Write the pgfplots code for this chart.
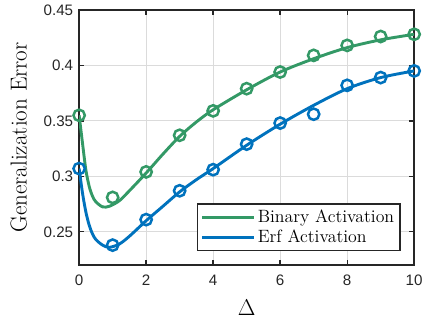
\documentclass[border=0pt]{standalone}
\usepackage{fontspec}
\usepackage{pgfplots}
\pgfplotsset{compat=1.18}
\newfontfamily\ticksf{Liberation Sans}
\definecolor{mgreen}{RGB}{51,153,102}
\definecolor{mblue}{RGB}{0,114,189}
\begin{document}
\begin{tikzpicture}
\begin{axis}[
  scale only axis,
  width=254pt, height=193.5pt,
  xmin=0, xmax=10, ymin=0.22, ymax=0.45,
  xtick={0,2,4,6,8,10},
  ytick={0.25,0.3,0.35,0.4,0.45},
  /pgf/number format/assume math mode=true,
  /pgf/number format/fixed,
  tick label style={font=\ticksf\fontsize{11.5}{13}\selectfont, text=black!85},
  xticklabel style={yshift=-4pt},
  yticklabel style={xshift=-1pt},
  grid=major,
  major grid style={gray!28, line width=0.8pt},
  axis line style={black!85, line width=1.2pt},
  tick style={black!85, line width=1pt},
  tick align=inside,
  major tick length=4pt,
  xlabel={$\Delta$},
  ylabel={Generalization Error},
  xlabel style={at={(axis description cs:0.5,-0.165)}, anchor=center, font=\fontsize{16}{18}\selectfont},
  ylabel style={at={(axis description cs:-0.18,0.5)}, anchor=center, font=\fontsize{17.5}{19}\selectfont},
  legend style={at={(0.96,0.055)}, anchor=south east, draw=black!85, line width=1pt,
    font=\fontsize{13.5}{15}\selectfont, inner sep=2.5pt, row sep=0pt},
  legend cell align=left,
  legend image code/.code={\draw[#1, line width=2.2pt] (0pt,0pt) -- (39pt,0pt);},
  after end axis/.code={\path (rel axis cs:0,0) ++(-60pt,-40pt); \path (rel axis cs:1,1) ++(6pt,7.5pt);},
]
% smooth curves
\addplot[mgreen, line width=2.2pt, smooth] coordinates {
(0,0.355) (0.1,0.33) (0.2,0.306) (0.3,0.291) (0.4,0.282) (0.5,0.277) (0.7,0.2725) (0.9,0.273) (1.2,0.278) (1.5,0.287) (2,0.303) (2.5,0.320) (3,0.336) (3.5,0.349) (4,0.360) (5,0.378) (6,0.394) (7,0.406) (8,0.416) (9,0.423) (10,0.428)};
\addlegendentry{Binary Activation}
\addplot[mblue, line width=2.2pt, smooth] coordinates {
(0,0.307) (0.1,0.285) (0.2,0.268) (0.3,0.256) (0.4,0.248) (0.5,0.243) (0.7,0.238) (0.9,0.236) (1.2,0.239) (1.5,0.246) (2,0.260) (2.5,0.273) (3,0.286) (3.5,0.297) (4,0.307) (5,0.328) (6,0.347) (7,0.364) (8,0.379) (9,0.389) (10,0.395)};
\addlegendentry{Erf Activation}
% markers
\addplot[only marks, mgreen, mark=o, mark size=4.3pt, mark options={line width=1.9pt}, forget plot] coordinates {
(0,0.355) (1,0.281) (2,0.304) (3,0.337) (4,0.359) (5,0.379) (6,0.394) (7,0.409) (8,0.418) (9,0.426) (10,0.428)};
\addplot[only marks, mblue, mark=o, mark size=4.3pt, mark options={line width=1.9pt}, forget plot] coordinates {
(0,0.307) (1,0.238) (2,0.261) (3,0.287) (4,0.306) (5,0.329) (6,0.348) (7,0.356) (8,0.382) (9,0.389) (10,0.395)};
\end{axis}
\end{tikzpicture}
\end{document}
